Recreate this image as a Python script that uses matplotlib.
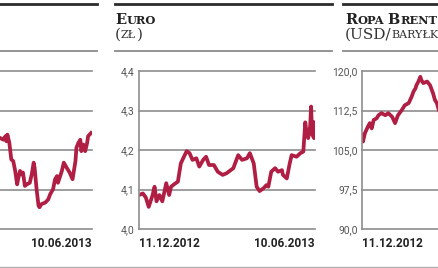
import matplotlib
matplotlib.use('Agg')
import matplotlib.pyplot as plt
import matplotlib.dates as mdates
import datetime as dt

W, H = 439, 268
start = dt.date(2012, 12, 11)
end = dt.date(2013, 6, 10)

# days counted from 11.12.2012
left_days = [86, 90, 92, 93, 94, 96, 98, 100, 102, 104, 105, 107, 109, 110, 112, 114,
             117, 119, 121, 122, 124, 126, 127, 129, 133, 136, 138, 141, 143, 145, 146,
             150, 152, 155, 158, 161, 164, 165, 167, 169, 170, 172, 174, 176, 177, 180]
left_vals = [3.231, 3.226, 3.235, 3.222, 3.239, 3.218, 3.176, 3.172, 3.147, 3.113, 3.126,
             3.147, 3.138, 3.143, 3.109, 3.113, 3.117, 3.138, 3.168, 3.155, 3.101, 3.059,
             3.055, 3.063, 3.067, 3.075, 3.088, 3.101, 3.126, 3.134, 3.117, 3.147, 3.168,
             3.155, 3.143, 3.126, 3.172, 3.206, 3.218, 3.226, 3.197, 3.214, 3.197, 3.218,
             3.235, 3.243]

euro_days = [0, 4, 7, 10, 14, 16, 18, 21, 24, 28, 31, 33, 36, 40, 43, 47, 49, 52, 55, 59,
             62, 66, 69, 72, 77, 81, 86, 90, 97, 102, 106, 111, 114, 118, 121, 124, 128,
             131, 133, 136, 140, 143, 147, 148, 152, 155, 157, 162, 166, 169, 171, 172,
             174, 176, 177, 178, 180, 181]
euro_vals = [4.086, 4.09, 4.08, 4.056, 4.086, 4.107, 4.07, 4.086, 4.07, 4.116, 4.086, 4.107,
             4.113, 4.12, 4.166, 4.187, 4.197, 4.192, 4.175, 4.179, 4.158, 4.175, 4.183,
             4.162, 4.162, 4.145, 4.137, 4.141, 4.154, 4.187, 4.175, 4.179, 4.192, 4.166,
             4.107, 4.096, 4.103, 4.111, 4.107, 4.145, 4.154, 4.145, 4.149, 4.137, 4.128,
             4.166, 4.187, 4.183, 4.192, 4.196, 4.27, 4.25, 4.23, 4.26, 4.31, 4.24, 4.23,
             4.27]

brent_days = [0, 1, 3, 6, 8, 10, 12, 15, 17, 20, 24, 27, 31, 34, 37, 41, 44, 48, 51, 53,
              55, 56, 58, 60, 61, 63, 67, 70, 73, 75, 77, 79, 82]
brent_vals = [107.85, 106.6, 108.2, 109.4, 110.1, 109.1, 110.7, 111.0, 111.6, 112.0, 111.6,
              112.0, 111.3, 110.1, 111.6, 112.6, 113.5, 113.9, 115.1, 116.1, 116.7, 117.3,
              118.0, 118.9, 118.3, 117.7, 118.0, 117.3, 115.8, 114.5, 113.9, 112.6, 111.5]

left_ticks = [3.0, 3.1, 3.2, 3.3, 3.4]
euro_ticks = [4.0, 4.1, 4.2, 4.3, 4.4]
brent_ticks = [90.0, 97.5, 105.0, 112.5, 120.0]
date_labels = ['11.12.2012', '10.06.2013']

red = '#b01e44'
grid_c = '#8e8e8e'

fig = plt.figure(figsize=(W / 100, H / 100), dpi=100)
fig.patch.set_facecolor('white')


def fx(x):
    return x / W


def fy(y):
    return 1 - y / H


def to_dates(days):
    return [start + dt.timedelta(days=d) for d in days]


def panel(x0, days, vals, ticks, show_first=True, show_last=True, show_y=True):
    ax = fig.add_axes([fx(x0), fy(229), 176 / W, 158 / H])
    ax.plot(to_dates(days), vals, color=red, lw=2.7, solid_joinstyle='round')
    ax.set_xlim(mdates.date2num(start), mdates.date2num(end))
    ax.set_ylim(ticks[0], ticks[-1])
    ax.set_yticks(ticks)
    if show_y:
        ax.set_yticklabels([('%.1f' % t).replace('.', ',') for t in ticks])
    else:
        ax.set_yticklabels([])
    ax.set_xticks([mdates.date2num(start), mdates.date2num(end)])
    ax.set_xticklabels([date_labels[0] if show_first else '',
                        date_labels[1] if show_last else ''])
    labs = ax.get_xticklabels()
    labs[0].set_ha('left')
    labs[1].set_ha('right')
    for lab in labs:
        lab.set_fontweight('bold')
        lab.set_fontsize(8.5)
        lab.set_color('#222222')
        lab.set_family('Roboto')
    for lab in ax.get_yticklabels():
        lab.set_family('Roboto')
    ax.tick_params(axis='y', length=0, pad=3, labelsize=7.5, labelcolor='#555555')
    ax.tick_params(axis='x', length=0, pad=6)
    ax.grid(axis='y', color=grid_c, lw=1.2)
    for gl in ax.get_ygridlines():
        gl.set_clip_on(False)
    ax.set_axisbelow(True)
    for s in ['top', 'right', 'bottom']:
        ax.spines[s].set_visible(False)
    ax.spines['left'].set_color(grid_c)
    ax.spines['left'].set_linewidth(1.2)
    return ax


# side panels sit partly off the picture: only their visible labels are drawn
panel(-84, left_days, left_vals, left_ticks, show_first=False, show_y=False)
panel(139, euro_days, euro_vals, euro_ticks)
panel(362, brent_days, brent_vals, brent_ticks, show_last=False)

# header rules
for a, b in [(-120, 97), (115, 332), (343, 560)]:
    fig.add_artist(plt.Line2D([fx(a), fx(b)], [fy(3.5), fy(3.5)], color='#2b2b2b', lw=2.0))
    fig.add_artist(plt.Line2D([fx(a), fx(b)], [fy(50.5), fy(50.5)], color='#8a8a8a', lw=1.3))
fig.add_artist(plt.Line2D([0, 1], [fy(267), fy(267)], color='#b0b0b0', lw=1.0))

renderer = fig.canvas.get_renderer()


def caps_text(x, y, parts, color='#222222', weight='normal'):
    for s, size, gap in parts:
        t = fig.text(fx(x), fy(y), s, fontsize=size, fontweight=weight,
                     family='DejaVu Serif', color=color, ha='left', va='baseline')
        x += t.get_window_extent(renderer).width + gap


caps_text(115, 23.5, [('E', 10.5, 0), ('URO', 8.2, 0)], weight='bold')
caps_text(115, 38.5, [('(', 11, 0), ('ZŁ', 8, 0.5), (')', 11, 0)], color='#333333')
caps_text(345, 23.5, [('R', 10.5, 0), ('OPA', 8.2, 4), ('B', 10.5, 0), ('RENT', 8.2, 0)],
          weight='bold')
caps_text(345, 38.5, [('(USD/', 11, 0), ('BARYŁKA', 8, 0.5), (')', 11, 0)], color='#333333')

fig.savefig('out.png', dpi=100)
